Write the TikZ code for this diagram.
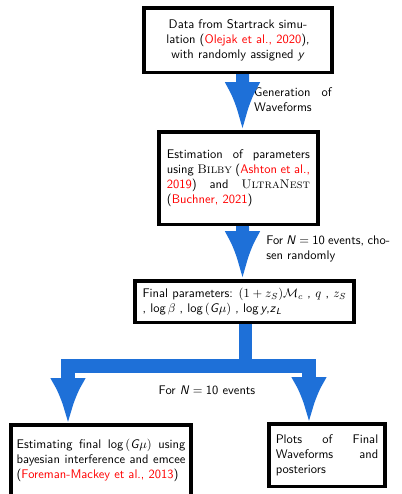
\documentclass[tikz,border=0pt]{standalone}
\usetikzlibrary{arrows.meta}
\definecolor{arrowblue}{RGB}{30,112,216}
\newcommand{\jline}[1]{\makebox[\hsize][s]{\spaceskip=0pt\xspaceskip=0pt #1}}
\newcommand{\cit}[1]{\textcolor{red}{#1}}
\begin{document}
\begin{tikzpicture}[x=0.8pt,y=-0.8pt,font=\sffamily,
  box/.style={draw, line width=2pt, inner sep=0pt, fill=white},
  lab/.style={inner sep=0pt},
  flow/.style={draw=arrowblue, line width=10.4pt, -{Latex[length=39.2pt,width=28.8pt]}},
  flowb/.style={draw=arrowblue, line width=10.6pt, -{Latex[length=36.8pt,width=28.8pt]}}]
\useasboundingbox (0,0) rectangle (402,494);
% boxes
\node[box, minimum width=150pt, minimum height=50.8pt, text width=145pt, align=center] (box1) at (238,40)
  {Data from Startrack simu-\\lation (\cit{Olejak et al., 2020}),\\with randomly assigned \textit{y}};
\node[box, minimum width=126pt, minimum height=73.2pt, text width=114.4pt, align=left] (box2) at (238.5,178)
  {\jline{Estimation of parameters}\\
   \jline{using {\rmfamily\scshape Bilby} (\cit{Ashton et al.,}}\\
   \jline{\cit{2019}) and {\rmfamily\scshape UltraNest}}\\
   (\cit{Buchner, 2021})};
\node[box, minimum width=174.8pt, minimum height=32.4pt, text width=163pt, align=left] (box3) at (244.5,301.5)
  {\jline{Final parameters: $(1+z_S)\mathcal{M}_c$ , $q$ , $z_S$}\\
   , log\,$\beta$ , log\,$($\textit{G}$\mu)$ , log\,\textit{y},\textit{z}$_{\textit{\scriptsize L}}$};
\node[box, minimum width=143.6pt, minimum height=55.6pt, text width=135pt, align=left] (box4) at (101,460)
  {\jline{Estimating final log\,$($\textit{G}$\mu)$ using}\\
   \jline{bayesian interference and emcee}\\
   (\cit{Foreman-Mackey et al., 2013})};
\node[box, minimum width=92.4pt, minimum height=49.2pt, text width=82pt, align=left] (box5) at (327,455)
  {\jline{Plots of Final}\\
   \jline{Waveforms and}\\
   posteriors};
% labels
\node[lab, anchor=west, text width=62pt, align=left] (lab1) at (254,100)
  {\jline{Generation of}\\Waveforms};
\node[lab, anchor=west, text width=99pt, align=left] (lab2) at (266,248.5)
  {\jline{For \textit{N}${}={}$10 events, cho-}\\sen randomly};
\node[lab] (lab3) at (207,390) {For \textit{N}${}={}$10 events};
% arrows
\draw[flow] ([xshift=3.6pt]box1.south) -- ([xshift=3.2pt]box2.north);
\draw[flow] ([xshift=3.2pt]box2.south) -- ([xshift=-1.6pt]box3.north);
\draw[flowb] ([xshift=0.8pt]box3.south) -- ++(0,43) -| ([xshift=-26.4pt]box4.north);
\draw[flowb] ([xshift=0.8pt]box3.south) -- ++(0,43) -| ([xshift=-14.4pt]box5.north);
% borders on top of the arrows
\draw[line width=2pt] (box1.south west) rectangle (box1.north east);
\draw[line width=2pt] (box2.south west) rectangle (box2.north east);
\draw[line width=2pt] (box3.south west) rectangle (box3.north east);
\draw[line width=2pt] (box4.south west) rectangle (box4.north east);
\draw[line width=2pt] (box5.south west) rectangle (box5.north east);
\end{tikzpicture}
\end{document}
